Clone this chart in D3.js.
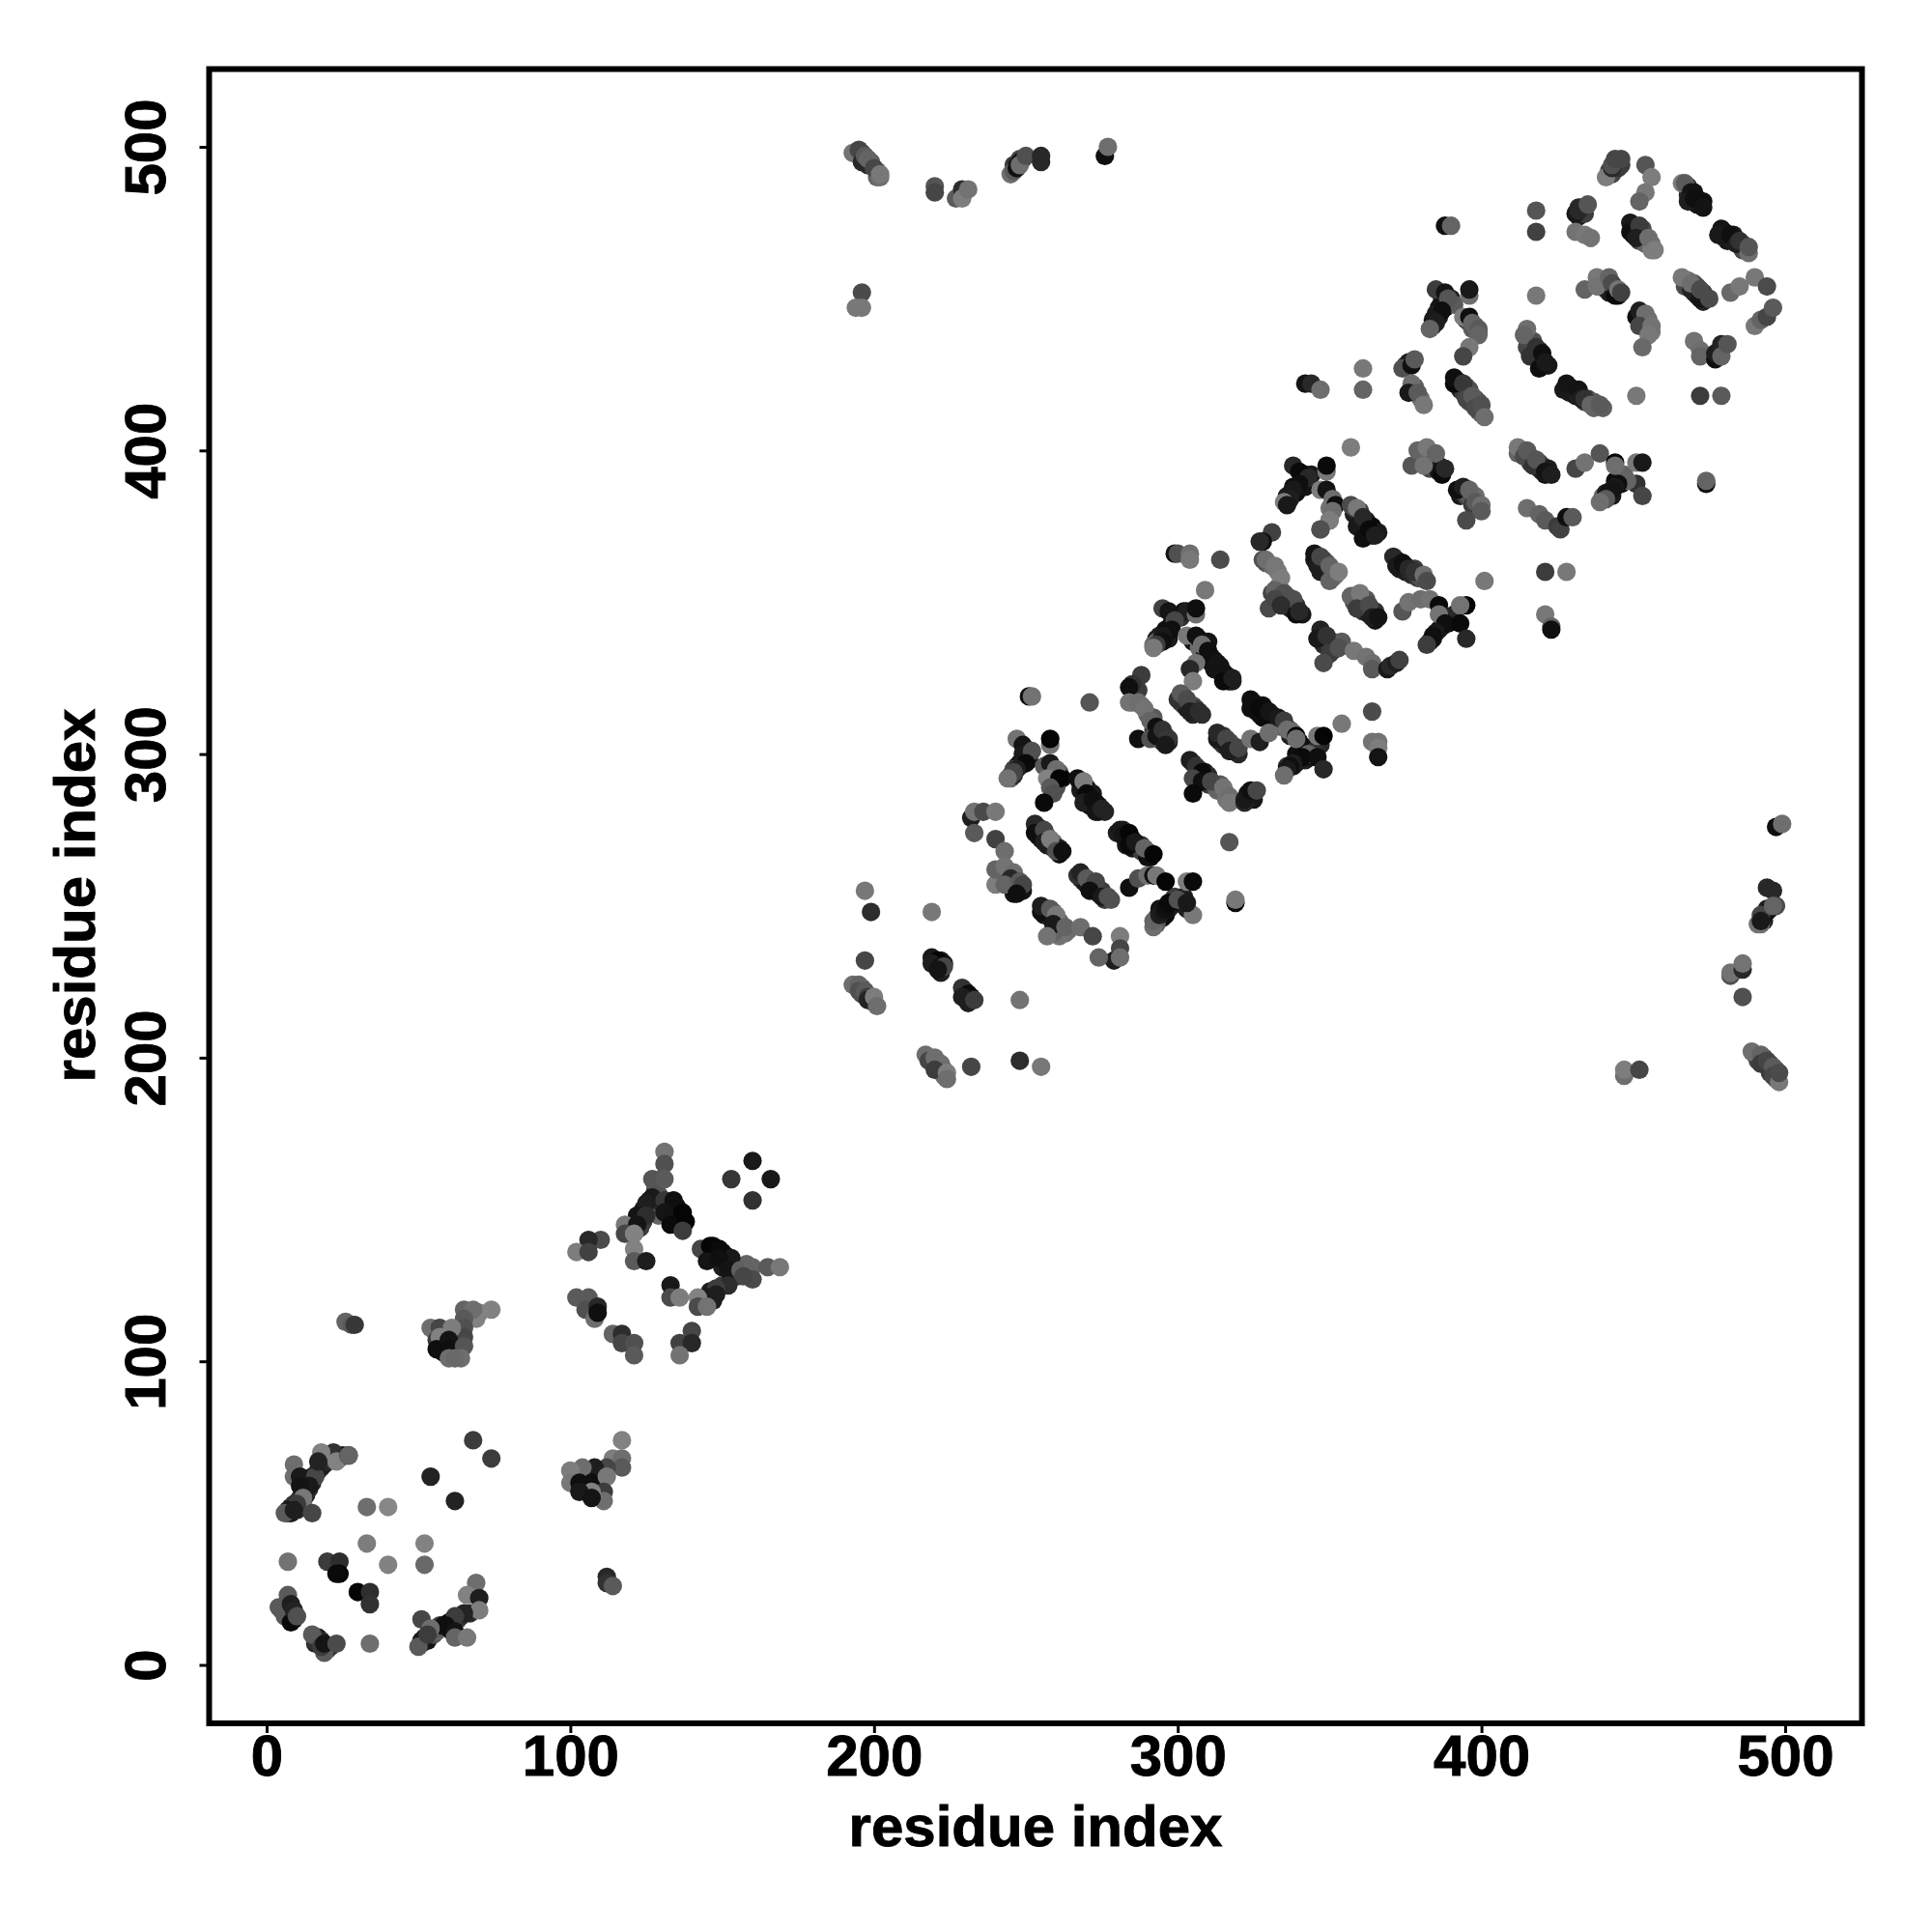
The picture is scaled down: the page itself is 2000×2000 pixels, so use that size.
<!DOCTYPE html>
<html><head><meta charset="utf-8">
<script src="https://cdn.jsdelivr.net/npm/d3@7"></script>
<style>html,body{margin:0;background:#fff}svg{display:block}</style></head>
<body><div id="chart"></div>
<script>
// each contact: [residue x, residue y, grey level]
const underNTerm = [[7,50,40],[8,50,30],[8,52,40],[9,52,25],[10,51,40],[11,53,20],[11,55,50],[12,53,120],[12,57,25],[13,56,30],[13,60,20],[14,58,40],[15,60,30],[15,62,40],[17,64,35],[18,65,35],[19,66,30],[20,67,40],[21,68,50],[24,68,80],[25,69,25],
[51,7,60],[52,8,30],[53,8,20],[53,9,20],[54,10,30],[54,11,40],[55,10,80],[55,11,110],[56,11,100],[56,12,90],[57,13,80],[58,13,20],[60,14,10],[60,12,15],[61,11,15],[63,15,70],[64,16,50],[67,17,40],
[5,18,60],[6,19,60],[7,17,40],[7,16,20],[8,17,15],[9,15,15],[16,7,40],[17,8,40],[17,9,30],[18,8,40],[19,6,70],[20,5,60],[20,6,20],[21,6,40],
[58,105,15],[58,103,15],[59,106,70],[61,105,60],[62,105,80],[62,103,100],[63,103,90],[63,107,80]];

const underMiddle = [[101,62,90],[102,63,60],[102,59,20],[104,61,15],[104,58,25],[105,62,40],[105,59,50],[106,64,70],[106,58,20],[108,62,30],[108,58,100],[109,60,90],[110,64,70],
[123,147,20],[124,150,25],[126,150,25],[126,153,30],[128,156,15],[128,152,20],[129,155,85],[129,148,100],[130,152,40],[132,151,15],[133,150,10],[135,151,15],[135,148,5],[136,146,10],[134,147,10],[124,146,60],[123,144,60],[128,158,85],
[146,136,10],[147,138,5],[147,134,10],[150,136,10],[150,133,15],[151,135,15],[151,132,60],[150,131,30],[154,132,40],[154,129,20],[155,128,50],[158,129,90],[158,132,100],[150,125,60],[146,122,25],[144,119,60],[147,120,30],[146,123,30]];

const underRepeatA = [[245,292,100],[246,293,40],[247,296,20],[248,297,15],[249,298,10],[248,296,30],[250,299,20],[251,299,15],[251,298,25],[246,295,70],[245,293,60],
[258,295,30],[259,294,60],[260,293,20],[259,292,40],[261,294,90],[262,292,10],[258,291,110],[259,289,70],[260,289,80],
[268,290,20],[269,289,30],[270,289,15],[271,286,10],[272,287,25],[273,284,20],[274,283,10],[274,281,30],[268,288,25],[270,285,20],[271,283,15],[276,281,35],
[280,274,30],[282,275,35],[283,272,15],[285,272,15],[285,269,20],[287,270,30],[288,268,60],[290,268,110],[291,266,10],[288,270,50],[283,270,25],[290,266,15],
[254,276,35],[254,273,30],[255,272,20],[257,273,50],[257,270,25],[259,271,100],[259,269,40],[261,269,30],[261,267,15],
[268,259,40],[269,258,35],[270,257,25],[271,258,50],[272,256,30],[273,256,70],[274,254,20],[275,255,60],[276,252,60],[278,252,80],
[241,261,100],[242,259,90],[243,260,100],[244,258,80],[245,257,60],[246,256,30],[247,258,70],[248,256,40],[249,255,20],[246,254,20],
[256,247,20],[257,249,70],[258,246,30],[259,248,100],[260,244,70],[261,245,100],[262,243,110],[263,241,110],[264,242,110],[261,240,115],[259,241,100],
[293,246,25],[294,249,20],[295,246,15],[296,247,10],[297,249,20],[298,250,30],[299,253,60],[293,244,90],[301,251,15],[302,253,30],[303,249,30],
[220,232,10],[222,232,25],[223,231,20],[222,228,30],[230,221,20],[232,220,15],[230,222,40],
[219,199,90],[221,198,100],[221,197,90],[223,196,100],[223,194,110],[196,221,70],[196,223,85],[199,219,70],[200,218,100]];

const underRepeatB = [[293,338,20],[294,337,15],[294,339,30],[296,339,20],[296,341,15],[298,343,15],[297,338,25],[293,337,90],[292,336,100],[301,345,50],[302,347,15],[303,347,30],
[305,337,20],[307,335,110],[309,335,15],[309,333,20],[311,332,15],[311,330,10],[312,331,15],[313,328,10],[314,327,15],[315,327,15],[316,326,20],[314,329,20],[317,324,15],[318,324,30],[307,338,50],[310,337,20],
[285,317,105],[286,319,90],[288,316,100],[290,313,100],[292,312,90],[292,308,60],[294,308,20],[294,305,50],[296,306,30],[297,304,30],[295,304,40],[287,321,60],
[301,317,40],[302,319,70],[302,316,60],[303,315,30],[304,316,70],[305,316,90],[306,315,60],[305,313,40],[308,313,45],
[314,304,30],[315,306,50],[315,303,50],[316,303,25],[317,304,70],[318,303,80],[318,301,30],[319,302,80],[320,300,40],
[325,317,20],[326,316,15],[326,314,10],[328,316,15],[328,312,15],[330,312,10],[331,313,25],[332,310,20],[332,312,60],[334,311,30],[334,309,80],[335,309,110],[337,308,100],[337,306,30],[338,307,110],[340,304,5],[327,313,15],
[336,296,50],[338,296,30],[339,297,20],[339,300,15],[340,298,15],[342,301,20],[343,302,10],[342,298,30],[344,299,20],[344,302,15],[347,303,40],[345,301,50],
[305,297,30],[306,293,60],[307,295,40],[309,292,15],[309,294,20],[310,293,40],[310,290,60],[312,290,80],[313,288,100],[314,290,90],[316,287,120],[316,285,115],[318,285,115],
[323,287,20],[323,285,30],[325,287,40],[325,285,25]];

const underRepeatC = [[329,363,90],[331,362,110],[333,360,120],[333,355,90],[334,354,90],[335,351,70],[336,352,70],[336,350,45],[337,348,30],[338,349,60],[339,349,50],[341,346,25],[331,353,70],
[346,364,35],[347,362,40],[348,364,60],[348,361,35],[349,363,80],[349,360,60],[351,360,100],[351,358,100],[352,359,110],[345,364,25],[347,360,30],
[358,350,80],[358,352,90],[360,349,70],[360,351,100],[361,347,60],[362,351,85],[362,347,40],[363,346,30],[365,347,50],[365,344,20],
[347,338,25],[348,339,40],[348,336,40],[349,337,45],[350,336,60],[351,337,70],[352,335,80],[351,334,60],[354,337,90],
[372,364,30],[373,361,30],[375,362,25],[375,360,30],[377,359,40],[378,361,60],[379,358,60],[380,358,80],
[358,379,30],[358,381,60],[360,380,60],[360,376,30],[362,377,20],[362,375,20],[364,375,10],[364,373,20],[366,373,25],
[336,385,30],[338,388,15],[339,386,15],[339,388,20],[341,388,15],[341,390,15],[342,392,10],[342,388,20],[344,392,25],
[386,341,15],[387,342,20],[384,338,20],[389,343,15],[390,345,20],[391,346,40]];

const underRepeatD = [[392,423,20],[393,420,30],[394,419,60],[395,421,70],[396,420,80],[396,416,70],[398,417,85],[399,416,80],[399,413,75],[400,412,90],
[415,437,100],[416,436,90],[416,435,60],[417,436,80],[417,432,30],[419,433,30],[420,429,15],[415,434,70],[419,430,15],[422,428,25],
[429,421,20],[429,419,25],[430,420,15],[431,418,25],[432,418,35],[434,416,60],[435,417,70],[437,416,90],[437,414,100],[440,414,95],
[450,474,40],[450,471,20],[451,472,30],[453,471,80],[452,469,70],[453,473,75],[454,468,100],[456,468,115],[456,466,125],
[468,487,50],[468,484,40],[469,483,25],[470,485,20],[471,483,15],[471,481,20],[472,482,15],[473,482,15],
[479,471,15],[480,472,20],[480,470,30],[481,469,25],[483,471,30],[483,469,30],[486,468,70],[486,466,70],[487,466,80],
[467,454,75],[468,456,110],[470,455,90],[470,452,40],[471,454,75],[471,451,30],[473,452,60],[473,449,35],
[442,492,70],[443,491,70],[445,495,60],[445,493,55],[446,494,60],
[440,456,105],[441,455,80],[441,453,60],[443,453,90],[442,452,30],[445,451,15],
[453,443,60],[453,441,90],[454,442,100],[455,443,110],[456,439,120],
[384,441,50],[386,444,25],[388,447,15],[389,448,30],[386,447,20],[387,449,20],[385,445,30],[390,450,30],[391,448,90],
[395,443,30],[396,442,80],[397,440,90],[398,441,100],[399,439,100],
[432,477,30],[433,480,60],[434,478,60],[432,480,40],[375,428,50],[376,429,30],[377,420,60],[378,421,90],[380,417,110]];

const underRepeatE = [[412,399,100],[413,400,90],[414,399,80],[416,398,85],[416,396,65],[417,397,70],[419,396,70],[419,394,40],[420,395,55],[421,392,20],[422,394,30],[420,393,30],
[380,398,100],[381,399,105],[383,397,100],[383,394,70],[384,396,60],[385,395,50],[386,395,30],[387,393,15],[386,393,20],
[393,385,25],[394,386,60],[395,385,70],[396,385,90],[397,384,85],[398,385,110],[399,381,95],[397,382,60],
[440,385,110],[441,386,30],[442,386,15],[443,385,25],[444,390,15],[446,389,20],[446,391,25],[447,392,100],
[246,494,60],[247,494,30],[249,496,40],[248,496,70],[194,498,90],[196,498,70],[197,495,50],[198,494,40],[199,494,60],[199,495,90],[201,492,90],[201,490,100],
[490,201,110],[491,200,90],[491,199,70],[493,200,80],[493,198,60],[495,198,70],[495,195,60],[497,196,80],[497,193,90],
[493,247,30],[494,249,30],[495,249,40],[493,245,30],[492,244,110]];

const clusterNTerm = [[26,113,100],[28,112,90],[29,112,55],
[70,116,125],[74,117,130],[69,114,130],[65,117,100],[68,117,110],[65,114,90],[65,111,80],[65,108,70],[54,111,110],[57,111,70],[61,111,125],[56,107,60],[57,108,130],[60,107,20],[56,104,15],[60,104,15],[65,105,85],[60,101,110],[64,101,110],[62,101,105],
[9,66,110],[9,62,110],[11,62,25],[16,62,70],[22,70,50],[18,70,130],[23,67,130],[17,67,35],[27,69,10],[27,69,100],[14,59,25],[11,59,20],[12,55,120],[9,53,50],[10,53,60],[7,51,25],[6,50,90],[15,50,70],[9,51,30],
[33,52,110],[40,52,135],[54,62,35],[62,54,35],[68,74,60],[74,68,60],[33,40,125],[52,40,130],[7,34,115],[40,33,130],[52,33,105],[20,34,60],[24,34,45],[24,30,5],[23,30,10],[30,24,5],[34,24,45],[34,20,50],
[69,27,110],[66,23,130],[70,22,30],[70,18,125],[65,17,35],[62,16,60],[59,13,15],[62,11,20],[62,9,100],[66,9,120],[51,15,70],[54,12,110],[52,9,30],[51,8,25],[50,6,90],[53,10,60],[34,7,110],
[19,4,90],[16,8,50],[15,10,90],[18,6,60],[19,7,20],[23,7,75],[7,23,90],[4,19,90],[6,16,90],[8,14,10],[8,20,30],[9,18,35],[10,16,80]];

const clusterMiddleA = [[117,74,130],[114,68,125],[117,68,110],[117,65,90],[112,65,70],[108,65,30],[104,65,110],[100,64,125],[100,60,120],[103,60,15],[107,60,15],[112,62,120],[111,57,60],[111,54,110],[107,57,130],[103,57,25],[107,55,20],
[112,29,40],[112,27,50],[114,26,90]];

const clusterMiddleB = [[131,169,115],[131,165,80],[127,160,85],[130,160,85],[131,160,90],[127,154,25],[125,152,30],[131,153,55],[134,153,15],[122,148,20],[125,148,45],[131,149,20],[137,149,5],[133,145,10],[138,146,5],[137,143,60],
[118,145,120],[122,145,20],[118,142,70],[121,142,130],[110,140,75],[106,140,40],[102,136,125],[106,136,65],[121,137,130],[121,133,90],[125,133,30],
[166,160,25],[153,160,55],[160,166,25],[160,153,50],
[143,137,70],[146,138,5],[149,137,10],[153,134,25],[145,133,20],[149,134,15],[152,130,20],[156,130,95],[160,131,100],[165,131,90],[169,131,120],[160,127,75],[157,128,70],[152,125,45],[148,124,60],[145,121,25],[148,122,30],[142,121,130],[142,118,75],[145,118,115],
[133,125,25],[133,121,75],[136,121,125],[102,121,90],[106,121,90],[105,117,80],[109,118,40],[108,114,110],[109,116,15],
[114,109,100],[117,109,45],[117,106,70],[121,106,80],[121,102,90],[140,110,70],[136,106,65],[140,106,40],[136,102,115]];

const clusterRepeatA = [[251,319,15],[252,319,115],[271,317,85],[317,271,85],[319,251,10],[319,252,120],[197,255,120],[199,248,45],[219,248,120],[197,232,70],[248,219,115],[232,197,70],[248,199,45],[255,197,120],
[193,224,110],[195,224,100],[195,222,80],[197,222,90],[198,220,60],[198,219,35],[200,220,125],[201,217,110],
[219,233,25],[221,232,5],[219,231,30],[222,230,15],[223,230,70],[221,229,20],[229,223,50],[231,221,10],[229,220,30],[231,218,30],[233,219,60],
[217,201,110],[218,199,70],[220,200,110],[222,198,110],[220,196,60],[224,195,125],[224,193,110],
[247,305,115],[249,303,20],[249,300,25],[252,301,80],[258,303,115],[258,305,5],[250,297,10],[247,295,30],[246,294,70],[244,292,115],
[256,296,90],[258,297,25],[260,295,110],[257,292,130],[261,292,5],[258,289,90],[259,287,80],[256,284,10],
[267,292,15],[269,291,125],[270,287,10],[269,284,30],[272,285,15],[273,281,20],[275,282,35],
[281,275,25],[282,273,20],[284,274,5],[284,270,10],[286,271,25],[289,269,100],[292,267,5],
[284,256,15],[287,259,80],[290,260,110],[292,260,15],[293,260,120],[296,258,5],[303,258,125],[305,258,10],
[305,247,120],[292,243,110],[292,245,100],[294,247,30],[295,248,25],[296,249,15],[297,251,10],[300,252,80],[303,251,25],
[232,279,30],[233,281,115],[236,281,75],[240,281,120],[233,274,90],[240,272,65],[243,268,110],
[240,257,125],[240,262,100],[243,263,115],[246,261,110],[245,259,40],[243,257,100],[248,258,90],[249,257,70],[247,254,15],
[253,277,40],[253,274,15],[256,275,70],[256,271,30],[258,272,125],[260,268,80],[262,268,15],
[267,260,50],[268,261,35],[270,259,90],[273,258,70],[271,255,15],[275,253,25],[277,253,80],
[255,248,15],[255,250,30],[258,249,90],[260,247,120],[259,244,25],[257,240,115],[263,243,100],[268,243,110],[272,240,70],
[281,240,125],[281,236,70],[279,232,30],[281,233,110],[274,233,100]];

const clusterRepeatB = [[314,364,75],[309,354,120],[299,366,20],[300,366,80],[304,366,110],[304,364,120],
[295,348,65],[306,346,110],[306,348,15],[297,347,20],[299,344,70],[298,341,15],[295,339,25],[295,337,15],[293,336,60],[292,335,120],
[303,339,120],[306,339,15],[308,336,110],[310,334,15],[306,330,115],[304,328,40],[305,324,125],[312,328,20],[313,330,20],[315,324,10],[318,325,30],
[288,326,60],[285,323,50],[284,322,15],[284,317,115],[287,317,110],[289,315,115],[291,311,100],[293,309,15],[287,305,15],[291,305,80],[293,306,20],[295,308,50],[297,305,55],[296,303,25],
[300,318,50],[301,320,90],[303,318,75],[304,314,30],[307,314,45],
[313,305,25],[313,307,40],[316,305,70],[317,301,30],[320,302,70],
[324,315,15],[324,318,15],[327,315,10],[329,312,10],[330,314,20],[333,312,25],[335,311,60],[336,308,110],[339,306,5],
[324,305,115],[327,304,30],[330,307,110],[339,305,110],
[346,306,120],[348,306,5],[343,300,100],[341,299,10],[346,299,15],[338,297,30],[337,296,15],[336,295,25],[335,293,110],[348,295,40],
[354,310,120],[364,314,75],[364,304,115],[366,304,115],[366,302,125],[366,299,20],
[304,298,30],[306,296,50],[308,294,10],[305,292,70],[308,291,15],[311,291,70],[305,287,10],[315,289,115],[317,286,110],[317,284,120],
[322,284,40],[322,285,25],[324,288,15],[326,288,70]];

const clusterRepeatC = [[331,373,65],[328,370,15],[327,370,40],[328,364,80],[329,364,110],[332,362,120],[334,358,125],[330,348,75],[332,354,100],[335,353,80],[332,351,70],[338,351,80],[334,349,45],[339,346,15],[340,347,40],
[345,366,20],[346,362,30],[347,365,70],[350,362,100],[350,357,100],[353,360,125],
[357,352,100],[360,353,120],[359,348,60],[363,349,75],[364,345,30],[366,345,20],
[347,341,35],[346,338,25],[349,339,50],[350,333,60],[348,330,75],[353,335,80],[358,334,120],[362,332,115],[364,330,110],[364,328,90],
[369,328,25],[370,329,40],[372,330,30],[373,331,65],
[371,365,40],[372,362,25],[374,363,15],[376,361,40],[378,360,50],[381,359,110],[382,357,75],
[374,347,85],[376,350,115],[380,351,110],[383,351,115],[386,349,10],[386,346,115],[395,349,5],[393,349,115],
[388,343,15],[393,343,10],[395,338,40],[385,340,25],[384,339,15],[383,337,15],[382,336,60],[401,357,120],
[360,378,45],[362,374,15],[364,372,30],[347,374,80],[350,377,115],
[357,401,125],[338,395,40],[349,393,120],[349,395,10],[340,393,10],[343,391,40],[340,389,15],[338,387,25],[337,384,30],[335,383,125],[336,382,25],
[347,387,125],[349,387,20],[351,384,110],[350,381,115],[352,382,15],[351,380,110],[350,377,125],[347,374,80],
[357,382,75],[359,381,120],[359,375,25],[361,378,40],[361,371,15],[363,374,10],[365,372,30]];

const clusterRepeatD = [[418,479,85],[418,472,65],[418,451,120],[451,418,120],[472,418,60],[479,418,90],[474,389,15],[474,390,100],[388,474,15],[390,474,100],
[431,478,25],[432,479,40],[435,481,85],[431,472,115],[434,471,120],[436,470,115],
[441,490,125],[443,493,40],[443,494,80],[444,496,70],[446,496,70],[454,494,85],[456,490,125],[454,485,120],[452,482,100],
[466,488,125],[467,488,90],[469,485,20],[468,482,30],[470,483,15],[473,480,20],
[479,473,20],[478,471,25],[482,471,15],[484,468,30],[485,469,50],[488,465,110],[488,467,85],
[449,475,25],[449,472,15],[452,474,60],[451,470,30],[455,470,110],[457,466,125],
[434,453,100],[438,457,120],[438,454,115],[442,457,100],[443,455,75],[444,451,10],[445,453,115],[446,452,65],
[466,457,120],[469,453,35],[469,455,110],[472,450,20],[472,453,75],[475,450,75],
[482,452,105],[485,454,120],[490,457,120],[494,454,75],[490,441,120],[492,443,100],[494,444,70],[496,447,90],
[451,444,15],[452,446,30],[454,445,110],[452,441,70],[456,441,115],[455,438,120],[453,434,105],
[470,436,115],[472,433,110],[472,431,100],[477,430,15],[477,432,30],[479,435,35],[479,431,100],[481,435,85],
[374,427,80],[377,428,15],[378,430,90],[377,422,110],[376,419,25],[379,419,90],[381,415,120],
[391,422,10],[391,424,15],[394,422,55],[395,417,70],[397,418,90],[398,414,75],[400,415,80],[401,411,110],
[415,440,110],[414,438,100],[416,431,50],[418,434,50],[420,432,15],[419,427,15],[421,429,25],
[427,420,25],[428,422,20],[432,420,20],[433,417,30],[434,417,50],[436,415,100],[439,415,90],
[385,453,60],[396,451,110],[396,453,25],[388,452,20],[389,450,85],[387,446,15],[384,443,25],[385,442,30],[383,440,100],
[394,444,125],[396,444,15],[397,442,100],[399,440,90],[399,438,100],[396,434,120],[394,431,70],
[342,422,20],[344,422,40],[347,420,110],[361,427,120],[361,420,100]];

const clusterRepeatE = [[377,395,85],[379,400,100],[382,401,120],[381,395,115],[385,399,100],[387,392,10],[388,394,40],
[392,387,15],[394,388,30],[396,387,100],[398,383,90],[400,382,110],[400,380,90],[395,377,75],
[412,401,120],[414,398,75],[415,400,90],[417,395,50],[418,397,85],[421,393,20],[423,392,30],
[415,381,110],[419,379,100],[421,377,90],[425,375,60],[426,374,65],[428,378,15],[430,378,90],
[431,394,70],[434,396,115],[439,399,85],[444,396,5],[444,395,110],[451,396,120],[453,396,25],
[451,389,50],[453,385,70],[448,390,100],[445,389,15],[444,388,25],[443,387,20],[441,384,90],[439,383,110],
[421,360,60],[428,360,120],[421,346,120],[423,342,100],[423,341,15]];

const clusterOffDiagonal = [[497,276,15],[499,277,110],[494,256,40],[496,255,40],[494,248,20],[492,247,70],[491,244,115],[492,245,25],[497,250,75],[496,250,100],
[482,227,80],[482,228,115],[486,229,40],[486,231,115],[486,220,80],
[489,202,110],[492,201,100],[492,198,60],[494,199,70],[496,197,90],[496,194,70],[498,192,120],[498,195,75],
[447,194,110],[447,196,125],[452,196,70],
[196,452,75],[194,447,120],[196,447,120],
[193,498,115],[195,499,70],[196,495,40],[197,497,90],[198,496,100],[200,493,70],[202,490,110],[202,491,120],
[220,487,85],[220,485,70],[227,483,90],[229,486,45],[229,483,125],[231,486,115],
[245,491,110],[246,492,90],[247,493,15],[248,495,20],[248,494,110],[250,497,80],[255,495,40],[255,497,40],
[276,497,15],[277,500,110]];

const xTickLabels = [0,100,200,300,400,500];
const yTickLabels = [0,100,200,300,400,500];
const xTitle = "residue index", yTitle = "residue index";

const all = [...underNTerm,...underMiddle,...underRepeatA,...underRepeatB,...underRepeatC,...underRepeatD,...underRepeatE,
  ...clusterNTerm,...clusterMiddleA,...clusterMiddleB,...clusterRepeatA,...clusterRepeatB,...clusterRepeatC,...clusterRepeatD,...clusterRepeatE,...clusterOffDiagonal];
const frame = {l:216.5,r:1927.5,t:71.5,b:1784};
const x = d3.scaleLinear().domain([0,500]).range([276,1848]);
const y = d3.scaleLinear().domain([0,500]).range([1723.5,152]);
const font = "'Liberation Sans',Arial,Helvetica,sans-serif";
const labelSize = 60, labelStroke = 0.9;

const svg = d3.select("#chart").append("svg").attr("width",2000).attr("height",2000).style("background","#fff");

svg.append("g").selectAll("circle").data(all).join("circle")
  .attr("cx",d=>x(d[0])).attr("cy",d=>y(d[1])).attr("r",9.6)
  .attr("fill",d=>`rgb(${d[2]},${d[2]},${d[2]})`);

svg.append("rect").attr("x",frame.l).attr("y",frame.t).attr("width",frame.r-frame.l).attr("height",frame.b-frame.t)
  .attr("fill","none").attr("stroke","#000").attr("stroke-width",6);

function styleLabel(sel){
  sel.attr("text-anchor","middle").attr("font-family",font).attr("font-weight","bold")
     .attr("font-size",labelSize).attr("fill","#000").attr("stroke","#000").attr("stroke-width",labelStroke);
}
const gx = svg.append("g").attr("transform",`translate(0,${frame.b})`)
  .call(d3.axisBottom(x).tickValues(xTickLabels).tickSize(10).tickPadding(0).tickFormat(d3.format("d")));
gx.select(".domain").remove();
gx.selectAll("line").attr("stroke","#000").attr("stroke-width",3);
gx.selectAll("text").attr("y",null).attr("dy",null).attr("transform","translate(0,54)").call(styleLabel);

const gy = svg.append("g").attr("transform",`translate(${frame.l},0)`)
  .call(d3.axisLeft(y).tickValues(yTickLabels).tickSize(10).tickPadding(0).tickFormat(d3.format("d")));
gy.select(".domain").remove();
gy.selectAll("line").attr("stroke","#000").attr("stroke-width",3);
gy.selectAll("text").attr("x",null).attr("dy",null).attr("transform","translate(-46,0) rotate(-90)").call(styleLabel);

svg.append("text").attr("x",1072).attr("y",1911).text(xTitle).call(styleLabel);
svg.append("text").attr("transform",`translate(98,927) rotate(-90)`).text(yTitle).call(styleLabel);
</script></body></html>
